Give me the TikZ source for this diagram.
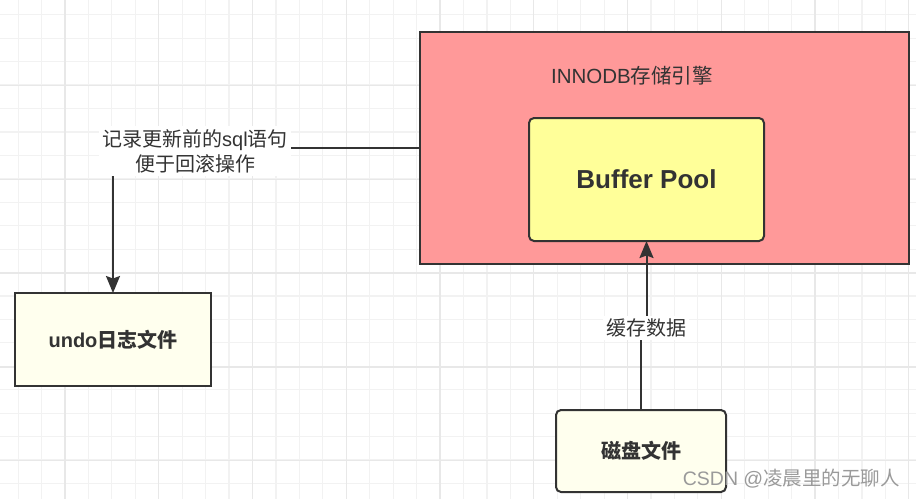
\documentclass[tikz,border=0pt]{standalone}
\usepackage{fontspec}
\setmainfont{Liberation Sans}
\newfontfamily\cjk{Noto Sans CJK SC}
\usetikzlibrary{arrows.meta}
\definecolor{ink}{HTML}{333333}
\definecolor{pinkfill}{HTML}{FF9999}
\definecolor{yellowfill}{HTML}{FFFF99}
\definecolor{ivory}{HTML}{FFFFEE}
\definecolor{gridminor}{HTML}{F2F2F2}
\definecolor{gridmajor}{HTML}{E8E8E8}
\definecolor{wm}{HTML}{9A9A9A}
\tikzset{
  box/.style={draw=ink, line width=2pt, inner sep=0pt, outer sep=0pt, text=ink},
  conn/.style={draw=ink, line width=2pt, -{Stealth[length=17pt,width=14pt,inset=2.5pt]}},
  lbl/.style={fill=white, text=ink, align=center, inner sep=3pt,
    font=\fontsize{20}{25}\selectfont},
  minorline/.style={draw=gridminor, line width=1.2pt},
  majorline/.style={draw=gridmajor, line width=1.3pt}
}
\begin{document}
\begin{tikzpicture}[x=1pt,y=-1pt]
\useasboundingbox (0,0) rectangle (916,499);
\fill[white] (0,0) rectangle (916,499);
% grid
\foreach \i in {0,...,38} \draw[minorline] ({18.1+\i*23.44},0) -- ({18.1+\i*23.44},499);
\foreach \i in {0,...,20} \draw[minorline] (0,{14.7+\i*23.44}) -- (916,{14.7+\i*23.44});
\foreach \i in {0,...,9} \draw[majorline] ({65+\i*93.76},0) -- ({65+\i*93.76},499);
\foreach \i in {0,...,5} \draw[majorline] (0,{85.6+\i*93.76}) -- (916,{85.6+\i*93.76});

% shapes
\node[box, fill=pinkfill, minimum width=489pt, minimum height=232pt] (innodb) at (664.5,148) {};
\node[text=ink, font=\fontsize{20.5}{24}\selectfont] (title) at (632,76) {INNODB{\cjk 存储引擎}};
\node[box, fill=yellowfill, rounded corners=5pt, minimum width=235pt, minimum height=123pt,
  font=\fontsize{26}{30}\selectfont\bfseries] (bp) at (646.5,179.5) {Buffer Pool};
\node[box, fill=ivory, minimum width=196pt, minimum height=93pt,
  font=\fontsize{20}{24}\selectfont\bfseries] (undo) at (113,339.5) {undo{\cjk\bfseries 日志文件}};
\node[box, fill=ivory, rounded corners=5pt, minimum width=170pt, minimum height=82pt,
  font=\fontsize{20}{24}\selectfont\bfseries] (disk) at (641,451) {{\cjk\bfseries 磁盘文件}};

% connectors
\draw[conn] (innodb.west) -- (undo.north |- innodb.west) -- (undo.north);
\node[lbl] (lab1) at (195,151) {{\cjk 记录更新前的}sql{\cjk 语句}\\{\cjk 便于回滚操作}};

\draw[conn] (disk.north) -- (disk.north |- 0,328) -- (bp.south |- 0,328) -- (bp.south);
\node[lbl] (lab2) at (646,328) {{\cjk 缓存数据}};

% watermark
\node[text=wm, font=\fontsize{19.5}{24}\selectfont, anchor=east, inner sep=0pt] (wmark) at (900,479) {CSDN @{\cjk 凌晨里的无聊人}};
\end{tikzpicture}
\end{document}
